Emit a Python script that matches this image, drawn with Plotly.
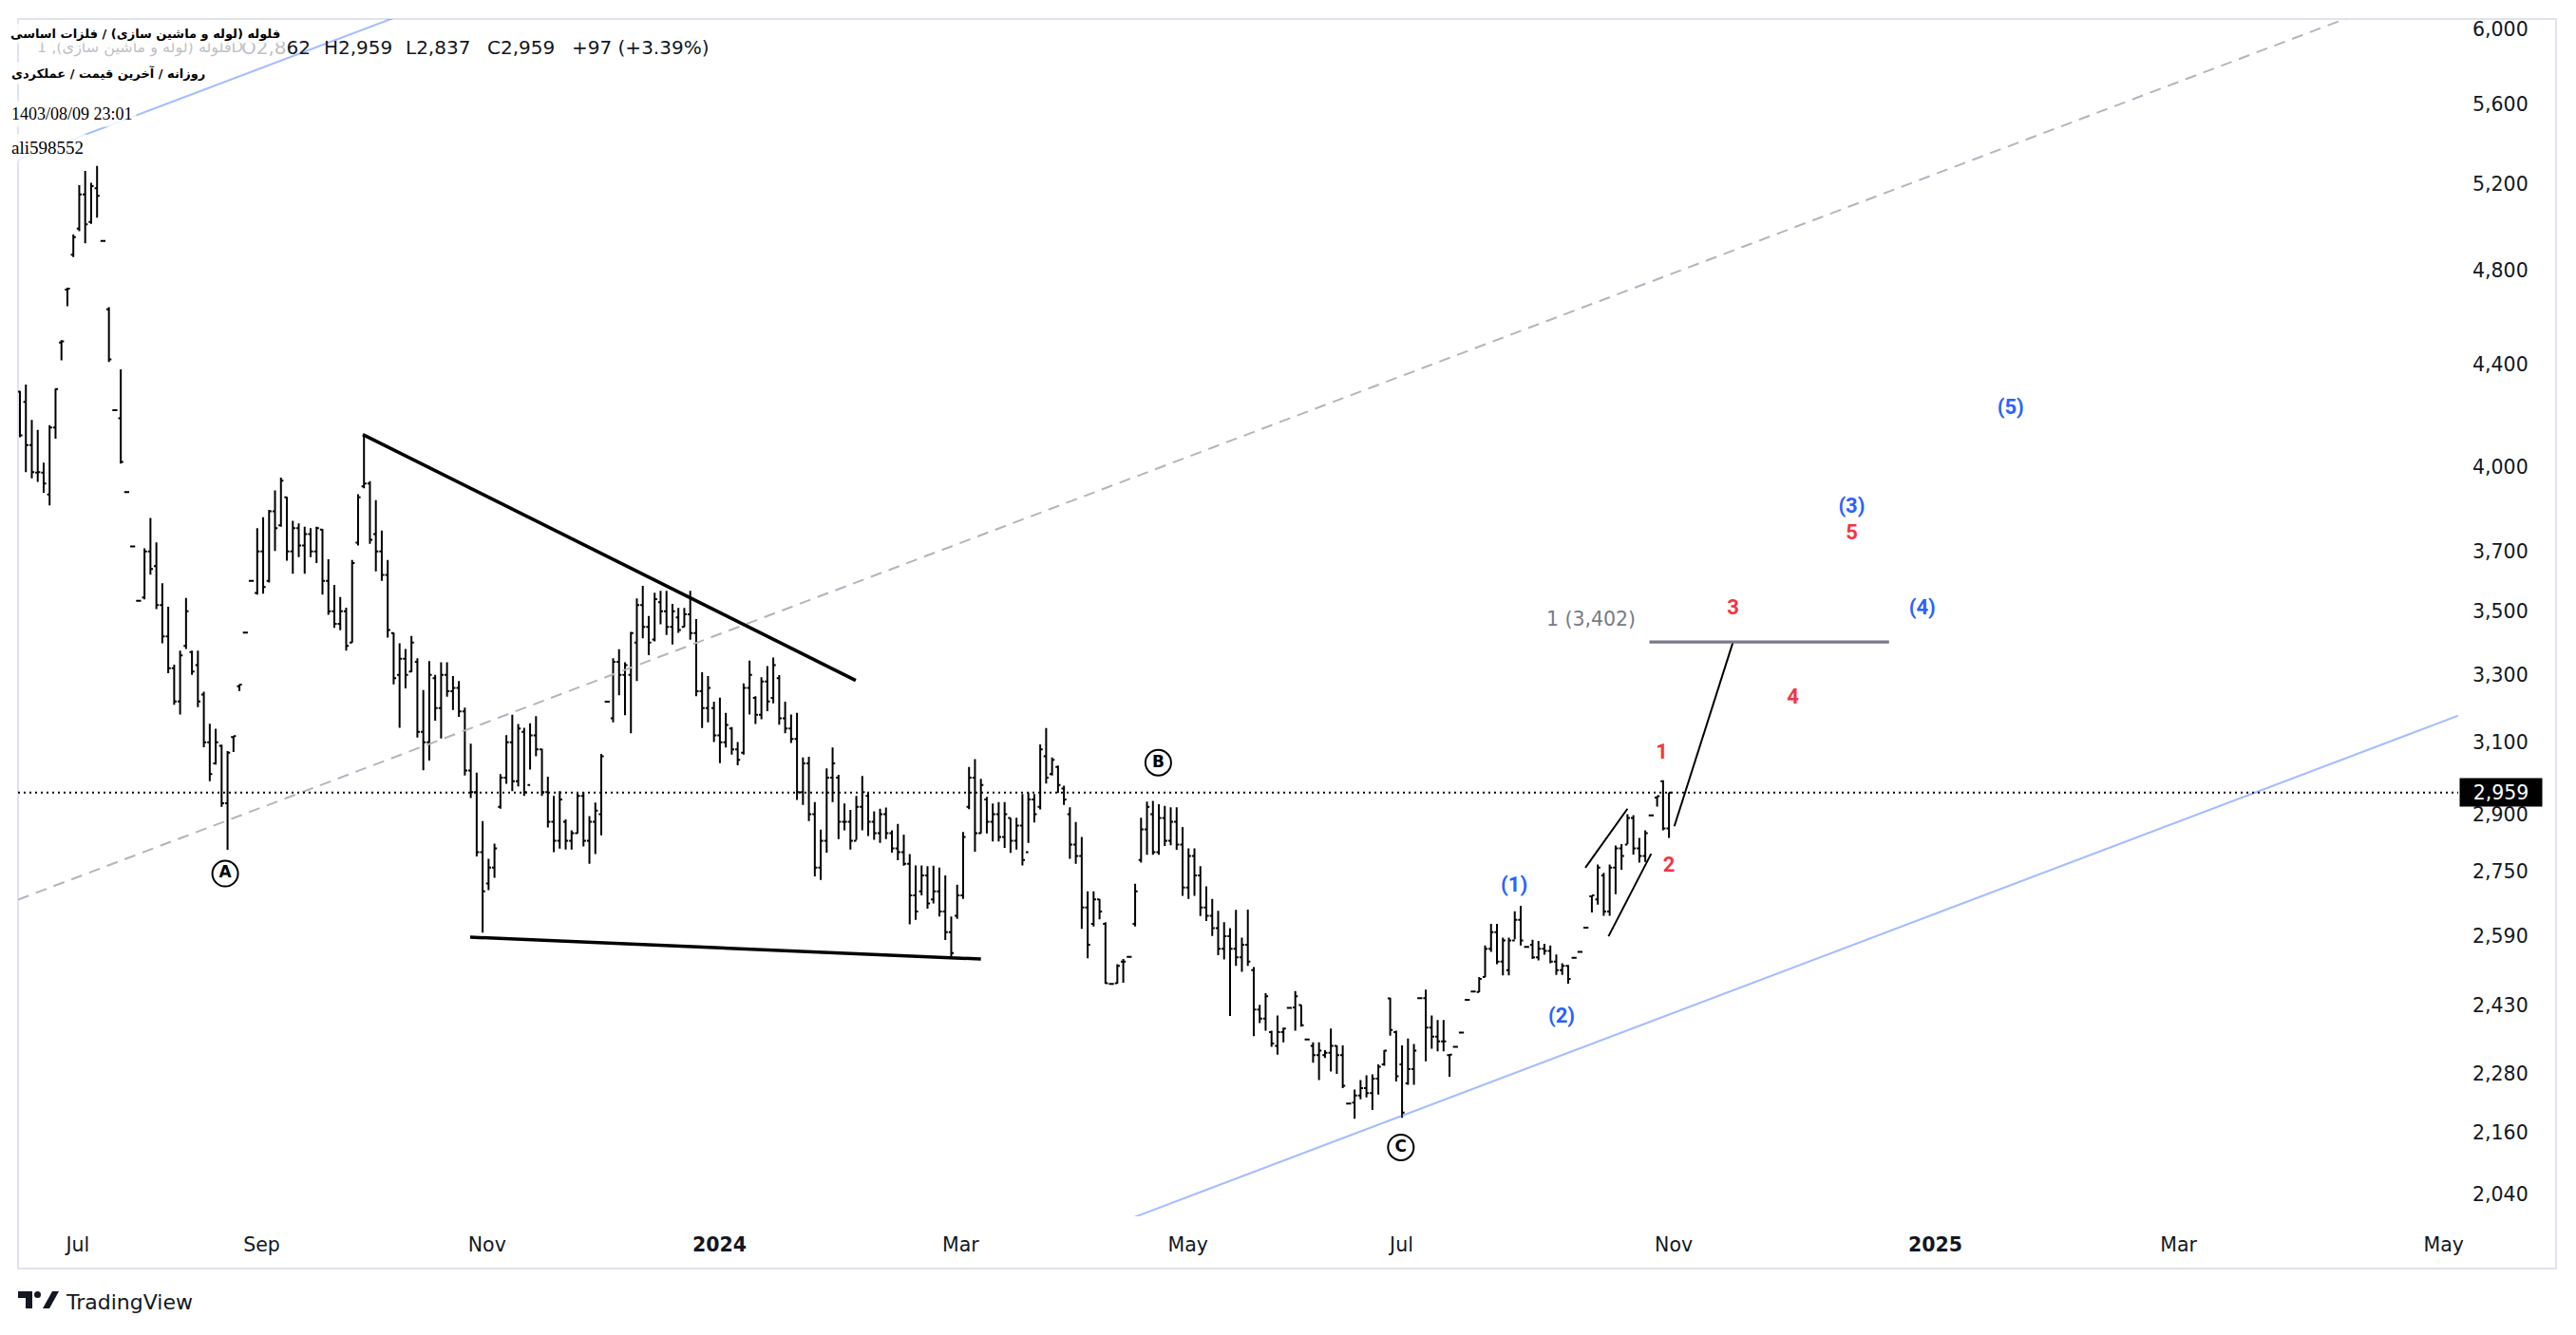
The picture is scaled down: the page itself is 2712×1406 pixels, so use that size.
import math
import plotly.graph_objects as go

# ---------------- DATA (daily OHLC) ----------------
OPEN = [4290, 4250, 4083, 3980, 3980, 3900, 4150, 4490, 4715, 4870,
        4990, 5150, 5020, 5180, 4933, 4630, 4217, 4186, 3909, 3717,
        3534, 3545, 3700, 3650, 3520, 3420, 3320, 3220, 3390, 3370,
        3330, 3240, 3100, 3040, 3090, 2930, 3115, 3265, 3432, 3600,
        3560, 3700, 3600, 3840, 3790, 3890, 3700, 3780, 3720, 3760,
        3700, 3775, 3600, 3500, 3460, 3500, 3400, 3730, 3930, 3940,
        3760, 3700, 3620, 3430, 3300, 3350, 3310, 3340, 3130, 3100,
        3290, 3200, 3300, 3250, 3260, 3190, 3020, 2960, 2800, 2720,
        2760, 2920, 3000, 3100, 2990, 3130, 2980, 3120, 3080, 2960,
        2880, 2830, 2880, 2830, 2850, 2950, 2830, 2880, 2900, 3219,
        3170, 3340, 3300, 3300, 3400, 3520, 3450, 3410, 3530, 3500,
        3450, 3480, 3450, 3490, 3430, 3250, 3200, 3200, 3120, 3100,
        3140, 3080, 3070, 3260, 3230, 3180, 3280, 3230, 3290, 3170,
        3140, 3110, 2960, 3040, 2900, 2760, 2830, 3000, 3000, 2880,
        2880, 2830, 2920, 2950, 2880, 2850, 2900, 2850, 2810, 2800,
        2770, 2690, 2700, 2740, 2680, 2700, 2650, 2600, 2640, 2690,
        2920, 3000, 2850, 2940, 2880, 2900, 2840, 2890, 2830, 2870,
        2800, 2940, 2920, 3060, 3010, 3030, 2970, 2900, 2820, 2790,
        2660, 2620, 2680, 2620, 2478, 2480, 2530, 2541, 2620, 2780,
        2860, 2900, 2800, 2890, 2830, 2880, 2820, 2710, 2790, 2740,
        2660, 2640, 2610, 2560, 2590, 2560, 2540, 2570, 2510, 2420,
        2400, 2370, 2340, 2370, 2424, 2425, 2430, 2354, 2340, 2320,
        2320, 2325, 2340, 2320, 2218, 2220, 2235, 2250, 2240, 2270,
        2300, 2445, 2370, 2300, 2260, 2290, 2446, 2446, 2380, 2360,
        2350, 2320, 2338, 2369, 2442, 2461, 2460, 2494, 2560, 2600,
        2530, 2510, 2580, 2630, 2565, 2570, 2540, 2560, 2555, 2530,
        2510, 2520, 2539, 2553, 2611, 2688, 2680, 2740, 2650, 2760,
        2810, 2820, 2890, 2810, 2790, 2897, 2945, 2990, 2862]
HIGH = [4293, 4318, 4179, 4141, 4017, 4159, 4302, 4500, 4724, 4962,
        5195, 5264, 5206, 5288, 4933, 4639, 4217, 4380, 3909, 3717,
        3534, 3710, 3816, 3731, 3592, 3515, 3331, 3375, 3544, 3375,
        3375, 3249, 3154, 3139, 3093, 3075, 3118, 3270, 3432, 3600,
        3780, 3819, 3845, 3915, 3962, 3892, 3806, 3797, 3785, 3780,
        3785, 3777, 3673, 3587, 3547, 3512, 3671, 3901, 4122, 3949,
        3880, 3772, 3671, 3432, 3398, 3380, 3421, 3351, 3254, 3342,
        3300, 3339, 3339, 3296, 3281, 3201, 3096, 3014, 2882, 2783,
        2822, 3010, 3121, 3180, 3153, 3142, 3155, 3176, 3082, 3003,
        2950, 2963, 2886, 2857, 2959, 2961, 2895, 2932, 3067, 3219,
        3351, 3379, 3339, 3434, 3542, 3584, 3485, 3561, 3567, 3567,
        3524, 3511, 3511, 3567, 3475, 3308, 3296, 3219, 3231, 3186,
        3144, 3101, 3274, 3344, 3235, 3293, 3327, 3353, 3299, 3219,
        3181, 3186, 3057, 3059, 2933, 2859, 3026, 3085, 3008, 2929,
        2912, 2950, 3005, 2959, 2908, 2915, 2918, 2857, 2874, 2846,
        2795, 2766, 2766, 2764, 2765, 2760, 2740, 2638, 2717, 2853,
        3030, 3052, 2997, 2947, 2929, 2933, 2933, 2890, 2891, 2955,
        2959, 2955, 3094, 3141, 3057, 3034, 2978, 2919, 2879, 2840,
        2700, 2700, 2681, 2624, 2478, 2524, 2536, 2541, 2719, 2891,
        2934, 2936, 2927, 2923, 2919, 2919, 2866, 2810, 2810, 2764,
        2713, 2681, 2652, 2624, 2610, 2654, 2587, 2655, 2517, 2431,
        2457, 2373, 2407, 2380, 2424, 2462, 2431, 2354, 2348, 2348,
        2331, 2378, 2341, 2341, 2218, 2247, 2267, 2277, 2279, 2300,
        2331, 2447, 2373, 2341, 2356, 2344, 2446, 2465, 2407, 2397,
        2397, 2321, 2338, 2369, 2442, 2461, 2494, 2568, 2620, 2620,
        2587, 2587, 2651, 2664, 2565, 2582, 2579, 2572, 2568, 2547,
        2526, 2522, 2539, 2553, 2611, 2690, 2768, 2747, 2768, 2817,
        2821, 2900, 2898, 2837, 2857, 2897, 2949, 2993, 2959]
LOW = [4113, 3982, 3959, 3946, 3906, 3861, 4107, 4416, 4643, 4860,
       4978, 4922, 5012, 5041, 4933, 4410, 4217, 4013, 3909, 3717,
       3534, 3539, 3621, 3507, 3398, 3305, 3210, 3181, 3380, 3300,
       3203, 3086, 2990, 3037, 2920, 2806, 3072, 3251, 3432, 3600,
       3555, 3558, 3595, 3701, 3785, 3668, 3624, 3680, 3624, 3680,
       3660, 3555, 3489, 3447, 3439, 3375, 3400, 3720, 3923, 3726,
       3632, 3600, 3416, 3271, 3142, 3259, 3308, 3114, 3021, 3048,
       3163, 3111, 3234, 3194, 3174, 3006, 2944, 2789, 2599, 2703,
       2734, 2915, 2983, 2963, 2976, 2950, 3023, 3060, 2950, 2865,
       2800, 2809, 2807, 2807, 2849, 2815, 2770, 2795, 2844, 3219,
       3158, 3238, 3179, 3126, 3281, 3414, 3361, 3404, 3458, 3424,
       3394, 3431, 3449, 3409, 3235, 3141, 3158, 3101, 3041, 3085,
       3065, 3035, 3065, 3181, 3153, 3167, 3191, 3214, 3151, 3126,
       3098, 2939, 2925, 2882, 2738, 2729, 2799, 2933, 2834, 2857,
       2807, 2832, 2857, 2842, 2832, 2824, 2834, 2799, 2779, 2765,
       2619, 2630, 2690, 2657, 2670, 2638, 2581, 2540, 2632, 2681,
       2914, 2801, 2849, 2849, 2828, 2828, 2811, 2798, 2807, 2766,
       2824, 2878, 2913, 2984, 3006, 2958, 2925, 2783, 2770, 2608,
       2538, 2614, 2631, 2479, 2478, 2479, 2481, 2541, 2614, 2773,
       2793, 2793, 2793, 2816, 2818, 2806, 2689, 2681, 2689, 2639,
       2627, 2591, 2545, 2535, 2406, 2520, 2506, 2520, 2361, 2390,
       2373, 2338, 2321, 2348, 2424, 2373, 2382, 2354, 2304, 2267,
       2314, 2285, 2280, 2250, 2218, 2187, 2227, 2231, 2205, 2237,
       2297, 2362, 2264, 2189, 2257, 2257, 2446, 2307, 2334, 2328,
       2328, 2274, 2338, 2369, 2442, 2461, 2459, 2494, 2553, 2524,
       2498, 2498, 2583, 2568, 2565, 2536, 2533, 2546, 2526, 2499,
       2499, 2479, 2539, 2553, 2611, 2648, 2667, 2640, 2640, 2693,
       2755, 2821, 2794, 2773, 2775, 2897, 2921, 2857, 2837]
CLOSE = [4120, 4083, 3982, 3982, 3940, 4150, 4300, 4495, 4720, 4950,
         5150, 5010, 5190, 5143, 4933, 4420, 4217, 4020, 3909, 3717,
         3534, 3700, 3640, 3520, 3420, 3320, 3220, 3360, 3500, 3310,
         3220, 3100, 3010, 3100, 2930, 3070, 3118, 3270, 3432, 3600,
         3700, 3580, 3840, 3780, 3950, 3700, 3780, 3720, 3760, 3700,
         3780, 3600, 3500, 3460, 3500, 3390, 3660, 3890, 3940, 3740,
         3700, 3620, 3440, 3290, 3350, 3300, 3400, 3130, 3100, 3300,
         3200, 3300, 3250, 3260, 3190, 3020, 2960, 2800, 2700, 2760,
         2810, 3000, 3100, 2990, 3140, 2960, 3120, 3080, 2960, 2880,
         2830, 2940, 2830, 2850, 2950, 2830, 2880, 2910, 3060, 3219,
         3340, 3300, 3330, 3430, 3520, 3450, 3400, 3540, 3500, 3450,
         3500, 3440, 3490, 3430, 3250, 3200, 3260, 3120, 3100, 3150,
         3080, 3050, 3260, 3300, 3180, 3280, 3220, 3330, 3170, 3140,
         3110, 2960, 3040, 2900, 2760, 2830, 3000, 3040, 2880, 2880,
         2830, 2920, 2960, 2880, 2850, 2900, 2850, 2810, 2800, 2770,
         2690, 2650, 2740, 2670, 2700, 2650, 2600, 2550, 2690, 2840,
         3000, 2850, 2980, 2880, 2900, 2840, 2900, 2830, 2870, 2780,
         2940, 2900, 3080, 3000, 3050, 2980, 2940, 2820, 2790, 2660,
         2570, 2680, 2650, 2480, 2478, 2520, 2530, 2541, 2700, 2860,
         2920, 2800, 2890, 2830, 2880, 2820, 2710, 2790, 2740, 2660,
         2640, 2610, 2560, 2590, 2560, 2540, 2570, 2530, 2420, 2400,
         2450, 2345, 2370, 2378, 2424, 2450, 2385, 2354, 2320, 2330,
         2325, 2340, 2320, 2255, 2218, 2235, 2250, 2240, 2270, 2295,
         2330, 2375, 2275, 2200, 2290, 2330, 2446, 2380, 2360, 2350,
         2350, 2321, 2338, 2369, 2442, 2461, 2490, 2560, 2600, 2530,
         2580, 2580, 2630, 2580, 2565, 2540, 2560, 2555, 2530, 2510,
         2520, 2490, 2539, 2553, 2611, 2690, 2760, 2650, 2760, 2810,
         2790, 2890, 2810, 2790, 2850, 2897, 2949, 2862, 2959]
BAR_X = list(range(len(CLOSE)))   # TradingView-style bar-index time scale

X_TICK_POS = [9.75, 40.75, 78.75, 117.95, 158.6, 196.9, 232.9, 278.8, 322.9, 363.9, 408.6]
X_TICK_TEXT = ["Jul", "Sep", "Nov", "<b>2024</b>", "Mar", "May", "Jul", "Nov",
               "<b>2025</b>", "Mar", "May"]
Y_TICKS = [2040, 2160, 2280, 2430, 2590, 2750, 2900, 3100, 3300, 3500, 3700,
           4000, 4400, 4800, 5200, 5600, 6000]
X_RANGE = [-0.32, 411.05]
Y_RANGE = [1998.2, 6059.2]

# drawings (bar index, price)
CHANNEL_X = [-0.32, 411.05]
CHANNEL_LOW = [1349.4, 3177.6]
CHANNEL_MID = [2679.6, 6304.9]
CHANNEL_UP = [5316.5, 12509.0]
TRI_TOP_X, TRI_TOP_Y = [57.8, 140.9], [4123, 3283]
TRI_BOT_X, TRI_BOT_Y = [75.9, 162.0], [2588, 2536]
WEDGE_A_X, WEDGE_A_Y = [263.9, 271.0], [2760, 2915]
WEDGE_B_X, WEDGE_B_Y = [267.8, 275.0], [2590, 2796]
PROJ_X, PROJ_Y = [278.9, 288.8], [2868, 3402]
FIB_X, FIB_LEVEL = [274.7, 315.1], 3402
FIB_LABEL_X, FIB_LABEL_Y = 272.4, 3469

ABC_TEXT = ["A", "B", "C"]
ABC_X = [34.6, 191.9, 232.8]
ABC_Y = [2745, 3042, 2130]
BLUE_TEXT = ["(1)", "(2)", "(3)", "(4)", "(5)"]
BLUE_X = [251.9, 259.9, 308.8, 320.7, 335.6]
BLUE_Y = [2713, 2402, 3853, 3507, 4222]
RED_TEXT = ["1", "2", "3", "4", "5"]
RED_X = [276.8, 278.0, 288.8, 298.9, 308.8]
RED_Y = [3069, 2763, 3507, 3230, 3761]

TITLE_1 = "فلوله (لوله و ماشین سازی) / فلزات اساسی"
TITLE_2 = "روزانه / آخرین قیمت / عملکردی"
SYMBOL_LEGEND = "فلوله (لوله و ماشین سازی), 1D"
STAMP = "1403/08/09 23:01"
AUTHOR = "ali598552"

# ---------------- LAYOUT GEOMETRY (page pixels) ----------------
PAGE_W, PAGE_H = 2712, 1406
BODY = 8                              # default html body margin
W, H = PAGE_W - 2 * BODY, PAGE_H - 2 * BODY
PL, PR, PT, PB = 19, 2588, 20, 1281   # plot area in page pixels
FONT = "DejaVu Sans"
INK = "#131722"
BLUE = "#2962ff"
RED = "#f23645"


def px(x):
    return (x - PL) / (PR - PL)


def py(y):
    return (PB - y) / (PB - PT)


fig = go.Figure()

fig.add_trace(go.Ohlc(
    x=BAR_X, open=OPEN, high=HIGH, low=LOW, close=CLOSE,
    increasing=dict(line=dict(color="#000000", width=2)),
    decreasing=dict(line=dict(color="#000000", width=2)),
    tickwidth=0.42, hoverinfo="skip", showlegend=False))


def line(xs, ys, color, width, dash="solid"):
    fig.add_trace(go.Scatter(x=xs, y=ys, mode="lines", hoverinfo="skip",
                             showlegend=False,
                             line=dict(color=color, width=width, dash=dash)))


# parallel channel
line(CHANNEL_X, CHANNEL_LOW, "rgba(41,98,255,0.42)", 2)
line(CHANNEL_X, CHANNEL_UP, "rgba(41,98,255,0.42)", 2)
line(CHANNEL_X, CHANNEL_MID, "#b2b5be", 2, "12px,8px")
# last price line
line(X_RANGE, [CLOSE[-1], CLOSE[-1]], "#000000", 2, "2px,4px")
# triangle
line(TRI_TOP_X, TRI_TOP_Y, "#000000", 3.5)
line(TRI_BOT_X, TRI_BOT_Y, "#000000", 3.5)
# wedge + projection
line(WEDGE_A_X, WEDGE_A_Y, "#000000", 2)
line(WEDGE_B_X, WEDGE_B_Y, "#000000", 2)
line(PROJ_X, PROJ_Y, "#000000", 2)
# fib level
line(FIB_X, [FIB_LEVEL, FIB_LEVEL], "#787b86", 3.3)

fig.add_trace(go.Scatter(
    x=[FIB_LABEL_X], y=[FIB_LABEL_Y], mode="text", text=[f"1 ({FIB_LEVEL:,})"],
    textposition="middle left", hoverinfo="skip", showlegend=False,
    textfont=dict(family=FONT, size=20.5, color="#787b86")))

# circled ABC
fig.add_trace(go.Scatter(
    x=ABC_X, y=ABC_Y, mode="markers+text", text=ABC_TEXT,
    textposition="middle center", hoverinfo="skip", showlegend=False,
    marker=dict(symbol="circle-open", size=27, color="#000000",
                line=dict(color="#000000", width=2)),
    textfont=dict(family=FONT, size=17, color="#000000", weight="bold")))

fig.add_trace(go.Scatter(
    x=BLUE_X, y=BLUE_Y, mode="text", text=BLUE_TEXT, textposition="middle center",
    hoverinfo="skip", showlegend=False,
    textfont=dict(family="Roboto", size=22, color=BLUE, weight="bold")))
fig.add_trace(go.Scatter(
    x=RED_X, y=RED_Y, mode="text", text=RED_TEXT, textposition="middle center",
    hoverinfo="skip", showlegend=False,
    textfont=dict(family="Roboto", size=22, color=RED, weight="bold")))

# ---------------- annotations ----------------
ann = []
GRAY_TXT = "#bfc1c7"
LEG_Y = py(50)
ann.append(dict(text=SYMBOL_LEGEND, x=px(37), y=LEG_Y, xref="paper", yref="paper",
                xanchor="left", yanchor="middle", showarrow=False,
                font=dict(family=FONT, size=16, color=GRAY_TXT)))
o_txt = f"{OPEN[-1]:,}"
ann.append(dict(text=f"<span style='color:{GRAY_TXT}'>O{o_txt[:3]}</span>{o_txt[3:]}",
                x=px(252), y=LEG_Y, xref="paper", yref="paper", xanchor="left",
                yanchor="middle", showarrow=False,
                font=dict(family=FONT, size=20, color=INK)))
chg = CLOSE[-1] - CLOSE[-2]
pct = chg / CLOSE[-2] * 100
for txt, xpx in [(f"H{HIGH[-1]:,}", 338.7), (f"L{LOW[-1]:,}", 425.0),
                 (f"C{CLOSE[-1]:,}", 510.9), (f"{chg:+d} ({pct:+.2f}%)", 599.9)]:
    ann.append(dict(text=txt, x=px(xpx), y=LEG_Y, xref="paper", yref="paper",
                    xanchor="left", yanchor="middle", showarrow=False,
                    font=dict(family=FONT, size=20, color=INK)))

BOXBG = "rgba(255,255,255,0.82)"
ann.append(dict(text=f"<b>{TITLE_1}</b>", x=px(8), y=py(36), xref="paper", yref="paper",
                xanchor="left", yanchor="middle", showarrow=False, bgcolor=BOXBG,
                borderpad=2, font=dict(family=FONT, size=13, color="#000000")))
ann.append(dict(text=f"<b>{TITLE_2}</b>", x=px(8), y=py(77), xref="paper", yref="paper",
                xanchor="left", yanchor="middle", showarrow=False, bgcolor=BOXBG,
                borderpad=3, font=dict(family=FONT, size=13, color="#000000")))
ann.append(dict(text=STAMP, x=px(8), y=py(120), xref="paper", yref="paper",
                xanchor="left", yanchor="middle", showarrow=False, bgcolor=BOXBG,
                borderpad=3, font=dict(family="Liberation Serif", size=18, color="#000000")))
ann.append(dict(text=AUTHOR, x=px(8), y=py(156), xref="paper", yref="paper",
                xanchor="left", yanchor="middle", showarrow=False, bgcolor=BOXBG,
                borderpad=3, font=dict(family="Liberation Serif", size=19, color="#000000")))

# last price tag on the axis
ann.append(dict(text=f"{CLOSE[-1]:,}", x=px(2589), y=math.log10(CLOSE[-1]),
                xref="paper", yref="y", xanchor="left", yanchor="middle",
                showarrow=False, bgcolor="#000000", borderpad=3, width=80, height=23,
                align="center", font=dict(family=FONT, size=20.5, color="#ffffff")))

# TradingView wordmark
ann.append(dict(text="TradingView", x=px(67), y=py(1371), xref="paper", yref="paper",
                xanchor="left", yanchor="middle", showarrow=False,
                font=dict(family=FONT, size=22, color=INK)))

shapes = [
    dict(type="rect", xref="paper", yref="paper", x0=px(19), x1=px(2691),
         y0=py(1336), y1=py(20), line=dict(color="#e0e3eb", width=2),
         fillcolor="rgba(0,0,0,0)", layer="below"),
    dict(type="rect", xref="paper", yref="paper", x0=px(19), x1=px(34),
         y0=py(1367), y1=py(1360), line=dict(width=0), fillcolor=INK),
    dict(type="rect", xref="paper", yref="paper", x0=px(27), x1=px(34),
         y0=py(1378), y1=py(1360), line=dict(width=0), fillcolor=INK),
    dict(type="circle", xref="paper", yref="paper", x0=px(36), x1=px(43),
         y0=py(1367), y1=py(1360), line=dict(width=0), fillcolor=INK),
    dict(type="path", xref="paper", yref="paper",
         path=(f"M {px(45)} {py(1378)} L {px(52)} {py(1378)} L {px(62)} {py(1360)} "
               f"L {px(55)} {py(1360)} Z"),
         line=dict(width=0), fillcolor=INK),
]

axis_font = dict(family=FONT, size=20.5, color=INK)
fig.update_layout(
    width=W, height=H, autosize=False,
    margin=dict(l=PL - BODY, r=(W + BODY) - PR, t=PT - BODY, b=(H + BODY) - PB, pad=0),
    paper_bgcolor="#ffffff", plot_bgcolor="#ffffff",
    showlegend=False, annotations=ann, shapes=shapes,
    xaxis=dict(range=X_RANGE, tickvals=X_TICK_POS, ticktext=X_TICK_TEXT,
               showgrid=False, zeroline=False, showline=False, ticks="",
               tickfont=axis_font, ticklabelstandoff=15, automargin=False,
               rangeslider=dict(visible=False), fixedrange=True),
    yaxis=dict(type="log", side="right",
               range=[math.log10(Y_RANGE[0]), math.log10(Y_RANGE[1])],
               tickvals=Y_TICKS, ticktext=[f"{v:,}" for v in Y_TICKS],
               showgrid=False, zeroline=False, showline=False, ticks="",
               tickfont=axis_font, ticklabelstandoff=14, automargin=False,
               fixedrange=True),
)

fig.write_html("out.html")
